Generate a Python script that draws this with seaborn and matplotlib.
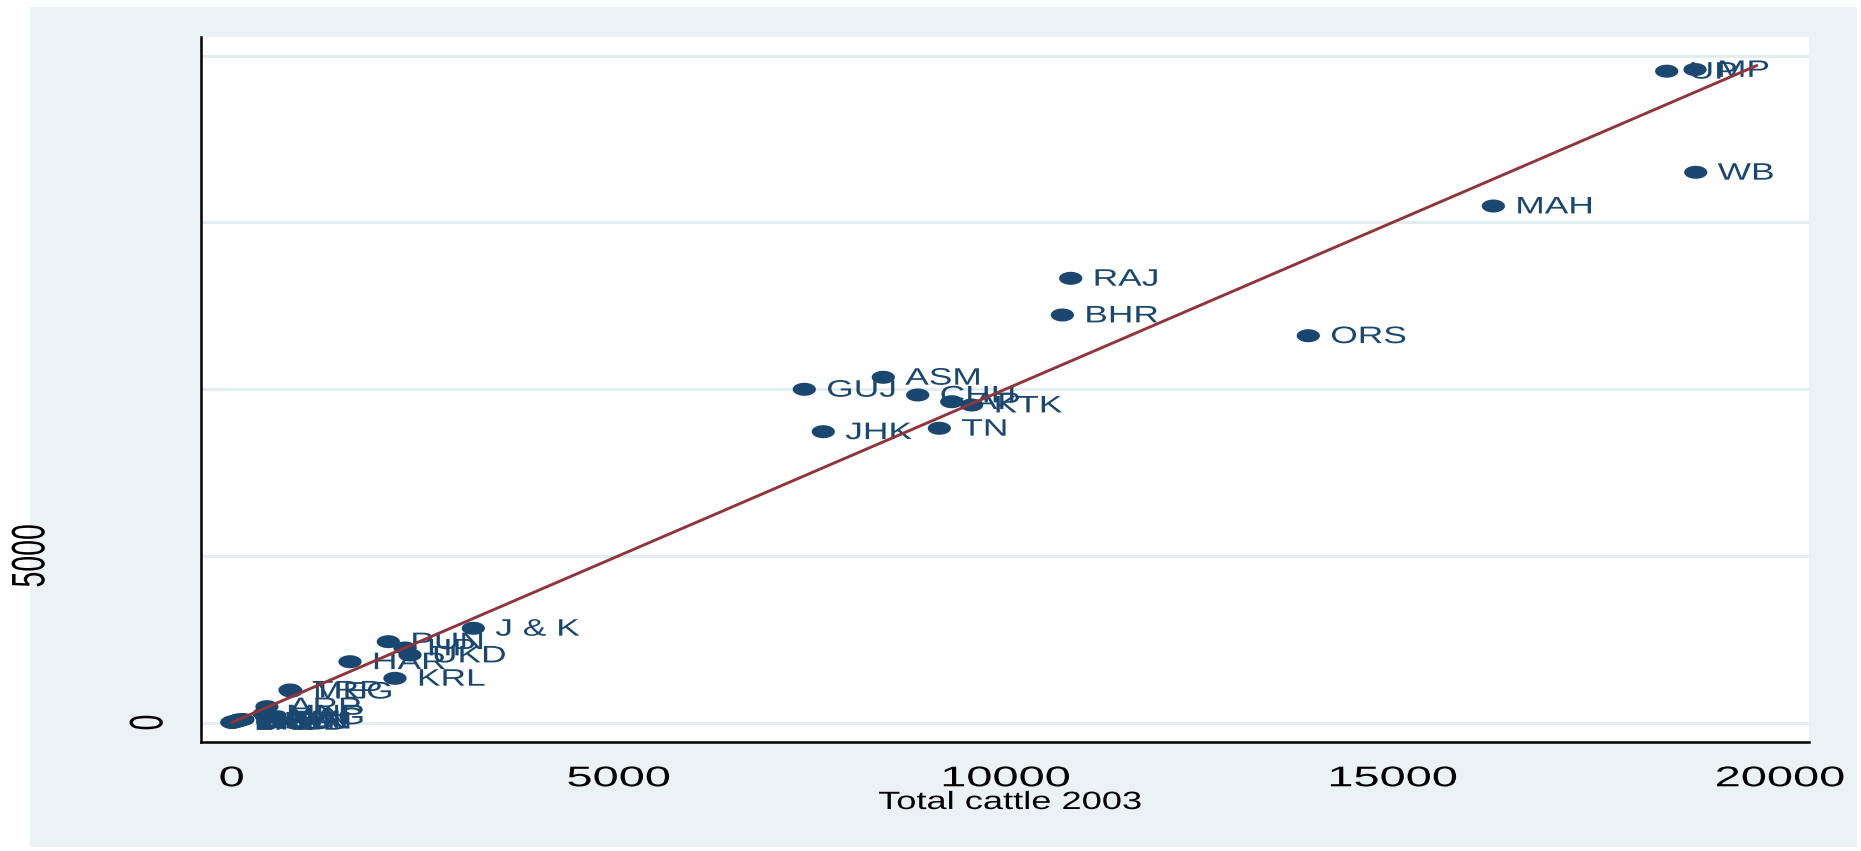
import numpy as np
import pandas as pd
import matplotlib
matplotlib.use("Agg")
import matplotlib.pyplot as plt
import seaborn as sns
from matplotlib.patheffects import AbstractPathEffect
from matplotlib.transforms import Affine2D, blended_transform_factory
from matplotlib.patches import Rectangle
from matplotlib.path import Path
from matplotlib.markers import MarkerStyle

# ---- data: cattle by state (thousands) ----
states = ["UP", "MP", "WB", "MAH", "ORS", "RAJ", "BHR", "KTK", "AP", "TN",
          "CHH", "ASM", "JHK", "GUJ", "J & K", "HP", "UKD", "KRL", "PUN", "HAR",
          "MEG", "TRP", "ARP", "NAG", "MNP", "SKM", "DEL", "GOA", "PDC", "D & N",
          "A & N", "MIZ", "CHD", "D & D", "LKD"]
cattle_2003 = [18535, 18901, 18910, 16296, 13906, 10837, 10729, 9558, 9300, 9140,
               8861, 8416, 7641, 7396, 3121, 2238, 2303, 2109, 2023, 1528,
               767, 753, 455, 451, 418, 145, 97, 82, 81, 56,
               46, 36, 9, 4, 3]
cattle_y = [19530, 19580, 16498, 15487, 11598, 13319, 12219, 9520, 9619, 8822,
            9820, 10351, 8720, 9991, 2825, 2234, 2024, 1325, 2423, 1823,
            940, 975, 475, 170, 260, 90, 80, 60, 45, 40,
            40, 30, 10, 5, 3]

# reference line (y = x) over the plotted range
fit_x = [0, 19700]
fit_y = [0, 19700]

xticks = [0, 5000, 10000, 15000, 20000]
xtick_labels = ["0", "5000", "10000", "15000", "20000"]
yticks = [0, 5000, 10000, 15000, 20000]
ytick_labels = ["0", "5000"]
xlabel = "Total cattle 2003"

NAVY = "#1A476F"
MAROON = "#90353B"
BG = "#EAF2F3"
GRID = "#E3ECEF"
W, H = 1861, 851


class Stretch(AbstractPathEffect):
    """Widen glyph outlines along one path axis before they are placed."""

    def __init__(self, factor, axis=0, anchor="start"):
        super().__init__()
        self.factor = factor
        self.axis = axis
        self.anchor = anchor

    def draw_path(self, renderer, gc, tpath, affine, rgbFace=None):
        ext = tpath.get_extents()
        if self.axis == 0:
            c = 0.0 if self.anchor == "start" else 0.5 * (ext.x0 + ext.x1)
            pre = Affine2D().translate(-c, 0).scale(self.factor, 1).translate(c, 0)
        else:
            c = 0.5 * (ext.y0 + ext.y1)
            pre = Affine2D().translate(0, -c).scale(1, self.factor).translate(0, c)
        renderer.draw_path(gc, tpath, pre + affine, rgbFace)


sns.set_style("white")
plt.rcParams["font.family"] = ["Liberation Sans", "DejaVu Sans"]

fig = plt.figure(figsize=(W / 100, H / 100), dpi=100)
fig.patch.set_facecolor("white")
fig.patches.append(Rectangle((30 / W, 1 - 847 / H), (1857 - 30) / W, (847 - 7) / H,
                             transform=fig.transFigure, facecolor=BG,
                             edgecolor="none", zorder=-1))

ax = fig.add_axes([201 / W, 1 - 741.7 / H, (1809 - 201) / W, (741.7 - 37) / H])
ax.set_facecolor("white")

df = pd.DataFrame({"state": states, "cattle_2003": cattle_2003, "cattle_y": cattle_y})

# wide elliptical dots
t = np.linspace(0, 2 * np.pi, 60)
ellipse = Path(np.column_stack([np.cos(t), 0.56 * np.sin(t)]), closed=True)

sns.scatterplot(data=df, x="cattle_2003", y="cattle_y", ax=ax,
                marker=MarkerStyle(ellipse), s=280, color=NAVY,
                edgecolor="none", linewidth=0, zorder=2, legend=False)

for name, xv, yv in zip(states, cattle_2003, cattle_y):
    ax.annotate(name, (xv, yv), xytext=(15.8, -1), textcoords="offset points",
                ha="left", va="center", fontsize=17.2, color=NAVY, zorder=3,
                path_effects=[Stretch(1.48)])

sns.lineplot(x=fit_x, y=fit_y, ax=ax, color=MAROON, linewidth=2.1, zorder=5,
             estimator=None, sort=False)

ax.set_xlim(-396.5, 20373)
ax.set_ylim(-575.7, 20555)

ax.set_yticks(yticks)
ax.set_xticks(xticks)
ax.set_xticklabels(xtick_labels, fontsize=20.5)
ax.tick_params(axis="x", length=7.2, width=2.0, color="#222222", pad=10.5,
               labelcolor="black")
ax.tick_params(axis="y", length=12.2, width=1.4, color="#222222", labelleft=False)
for lbl in ax.get_xticklabels():
    lbl.set_path_effects([Stretch(1.65, anchor="center")])

ax.yaxis.grid(True, color=GRID, linewidth=2.2)
ax.xaxis.grid(False)
ax.set_axisbelow(True)

for side in ("top", "right"):
    ax.spines[side].set_visible(False)
for side in ("left", "bottom"):
    ax.spines[side].set_color("black")
    ax.spines[side].set_linewidth(1.8)

# vertical y tick labels
ytr = blended_transform_factory(fig.transFigure, ax.transData)
for lab_x, val, lab in zip([149 / W, 31 / W], yticks[:2], ytick_labels):
    ax.text(lab_x, val, lab, transform=ytr, rotation=90, ha="center", va="center",
            fontsize=20.5, color="black", clip_on=False,
            path_effects=[Stretch(1.65, axis=1)])

ax.set_xlabel(xlabel, fontsize=18, color="black",
              path_effects=[Stretch(1.45, anchor="center")])
ax.xaxis.set_label_coords((1010 - 201) / 1608, (741.7 - 790) / (741.7 - 37))
ax.xaxis.label.set_va("top")
ax.set_ylabel("")

fig.savefig("out.png", dpi=100, facecolor="white")
